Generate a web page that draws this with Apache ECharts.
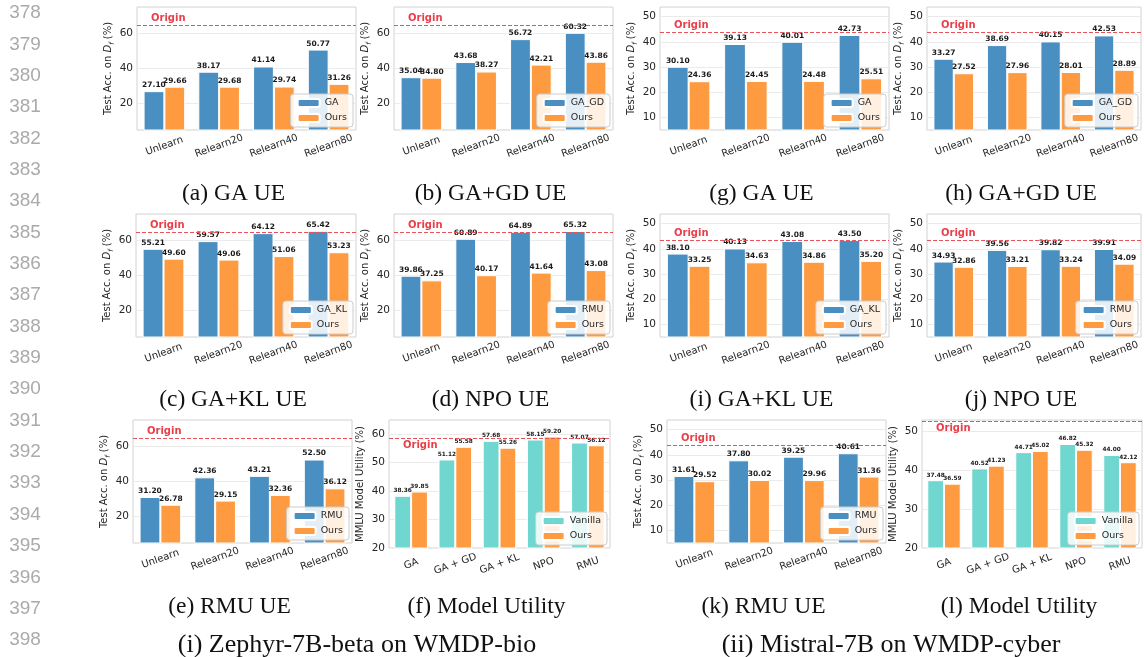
<!DOCTYPE html>
<html>
<head>
<meta charset="utf-8">
<script src="https://cdn.jsdelivr.net/npm/echarts@6/dist/echarts.min.js"></script>
<style>
  html, body { margin: 0; padding: 0; background: #fff; }
  #chart { width: 1144px; height: 657px; }
</style>
</head>
<body>
<div id="chart"></div>
<script>
// ---- data ----
const relearnCats = ['Unlearn', 'Relearn20', 'Relearn40', 'Relearn80']
const utilityCats = ['GA', 'GA + GD', 'GA + KL', 'NPO', 'RMU']

const ticksBio = [20, 40, 60]
const ticksCyber = [10, 20, 30, 40, 50]
const ticksUtilBio = [20, 30, 40, 50, 60]
const ticksUtilCyber = [20, 30, 40, 50]

// (i) Zephyr-7B-beta on WMDP-bio
const gaBio = [27.10, 38.17, 41.14, 50.77]
const gaBioOurs = [29.66, 29.68, 29.74, 31.26]
const gdBio = [35.04, 43.68, 56.72, 60.32]
const gdBioOurs = [34.80, 38.27, 42.21, 43.86]
const klBio = [55.21, 59.57, 64.12, 65.42]
const klBioOurs = [49.60, 49.06, 51.06, 53.23]
const npoBio = [39.86, 60.89, 64.89, 65.32]
const npoBioOurs = [37.25, 40.17, 41.64, 43.08]
const rmuBio = [31.20, 42.36, 43.21, 52.50]
const rmuBioOurs = [26.78, 29.15, 32.36, 36.12]
const utilBio = [38.36, 51.12, 57.68, 58.15, 57.07]
const utilBioOurs = [39.85, 55.58, 55.26, 59.20, 56.12]

// (ii) Mistral-7B on WMDP-cyber
const gaCyber = [30.10, 39.13, 40.01, 42.73]
const gaCyberOurs = [24.36, 24.45, 24.48, 25.51]
const gdCyber = [33.27, 38.69, 40.15, 42.53]
const gdCyberOurs = [27.52, 27.96, 28.01, 28.89]
const klCyber = [38.10, 40.13, 43.08, 43.50]
const klCyberOurs = [33.25, 34.63, 34.86, 35.20]
const npoCyber = [34.93, 39.56, 39.82, 39.91]
const npoCyberOurs = [32.86, 33.21, 33.24, 34.09]
const rmuCyber = [31.61, 37.80, 39.25, 40.61]
const rmuCyberOurs = [29.52, 30.02, 29.96, 31.36]
const utilCyber = [37.48, 40.52, 44.71, 46.82, 44.00]
const utilCyberOurs = [36.59, 41.23, 45.02, 45.32, 42.12]

// origin accuracy per panel, a..l
const originLevels = [64.7, 64.7, 64.4, 64.5, 64.4, 58.6, 43.8, 43.8, 43.5, 43.5, 43.8, 52.6]

const panels = [
  { cap: '(a) GA UE', cats: relearnCats, names: ['GA', 'Ours'], vals: [gaBio, gaBioOurs], ticks: ticksBio, range: [5, 75] },
  { cap: '(b) GA+GD UE', cats: relearnCats, names: ['GA_GD', 'Ours'], vals: [gdBio, gdBioOurs], ticks: ticksBio, range: [5, 75] },
  { cap: '(c) GA+KL UE', cats: relearnCats, names: ['GA_KL', 'Ours'], vals: [klBio, klBioOurs], ticks: ticksBio, range: [5, 75] },
  { cap: '(d) NPO UE', cats: relearnCats, names: ['RMU', 'Ours'], vals: [npoBio, npoBioOurs], ticks: ticksBio, range: [5, 75] },
  { cap: '(e) RMU UE', cats: relearnCats, names: ['RMU', 'Ours'], vals: [rmuBio, rmuBioOurs], ticks: ticksBio, range: [5, 75] },
  { cap: '(f) Model Utility', cats: utilityCats, names: ['Vanilla', 'Ours'], vals: [utilBio, utilBioOurs], ticks: ticksUtilBio, range: [20, 65] },
  { cap: '(g) GA UE', cats: relearnCats, names: ['GA', 'Ours'], vals: [gaCyber, gaCyberOurs], ticks: ticksCyber, range: [5, 53.8] },
  { cap: '(h) GA+GD UE', cats: relearnCats, names: ['GA_GD', 'Ours'], vals: [gdCyber, gdCyberOurs], ticks: ticksCyber, range: [5, 53.8] },
  { cap: '(i) GA+KL UE', cats: relearnCats, names: ['GA_KL', 'Ours'], vals: [klCyber, klCyberOurs], ticks: ticksCyber, range: [5, 53.8] },
  { cap: '(j) NPO UE', cats: relearnCats, names: ['RMU', 'Ours'], vals: [npoCyber, npoCyberOurs], ticks: ticksCyber, range: [5, 53.8] },
  { cap: '(k) RMU UE', cats: relearnCats, names: ['RMU', 'Ours'], vals: [rmuCyber, rmuCyberOurs], ticks: ticksCyber, range: [5, 53.8] },
  { cap: '(l) Model Utility', cats: utilityCats, names: ['Vanilla', 'Ours'], vals: [utilCyber, utilCyberOurs], ticks: ticksUtilCyber, range: [20, 53] },
]

// ---- layout: plot boxes [x0, y0, x1, y1], a..l ----
const boxes = [
  [137, 7, 356, 130], [394, 7, 613, 130],
  [136, 214, 356, 337], [394, 214, 613, 337],
  [133, 420, 352, 543], [389, 420, 610, 548],
  [660, 7, 889, 130], [927, 7, 1141, 130],
  [660, 214, 889, 337], [927, 214, 1141, 337],
  [667, 420, 886, 543], [922, 420, 1142, 548],
]
const captionY = [194, 194, 400, 400, 607, 607, 194, 194, 400, 400, 607, 607]

const FONT = 'DejaVu Sans'
const BLUE = '#4a8fc2'
const ORANGE = '#fe9a40'
const TEAL = '#6fd7cf'
const INK = '#262626'

const grid = [], xAxis = [], yAxis = [], series = [], legend = [], graphic = []

panels.forEach((p, i) => {
  const [x0, y0, x1, y1] = boxes[i]
  const util = p.cats.length === 5
  const step = util ? 10 : 5

  grid.push({
    left: x0, top: y0, width: x1 - x0, height: y1 - y0,
    show: true, borderColor: '#d2d2d2', borderWidth: 1, backgroundColor: '#fff',
  })

  xAxis.push({
    type: 'category', gridIndex: i, data: p.cats,
    axisLine: { show: false }, axisTick: { show: false },
    axisLabel: {
      interval: 0, rotate: 20, align: 'center', verticalAlign: 'middle',
      margin: 16, fontSize: 10, color: INK, fontFamily: FONT,
    },
  })

  yAxis.push({
    type: 'value', gridIndex: i, min: p.range[0], max: p.range[1], interval: step,
    splitLine: { show: false }, axisLine: { show: false }, axisTick: { show: false },
    axisLabel: {
      // only the tick values listed for the panel get a label
      formatter: v => (p.ticks.includes(Math.round(v)) && Math.abs(v - Math.round(v)) < 1e-6 ? String(Math.round(v)) : ''),
      fontSize: 10.5, margin: 4, color: INK, fontFamily: FONT,
    },
    name: util ? 'MMLU Model Utility (%)' : 'Test Acc. on {it|D}{sub|f} (%)',
    nameLocation: 'middle', nameRotate: 90, nameGap: util ? 15 : 18,
    nameTextStyle: {
      fontSize: 10, color: INK, fontFamily: FONT, lineHeight: 14,
      rich: {
        it: { fontSize: 10, fontStyle: 'italic', color: INK, fontFamily: FONT, lineHeight: 14 },
        sub: { fontSize: 7, fontStyle: 'italic', color: INK, fontFamily: FONT, lineHeight: 8, verticalAlign: 'bottom' },
      },
    },
  })

  const valueLabel = {
    show: true, position: 'top', distance: 2,
    fontSize: util ? 5.8 : 7.5, fontWeight: 'bold', color: '#1a1a1a', fontFamily: FONT,
    formatter: d => d.value.toFixed(2),
  }

  series.push({
    type: 'bar', name: p.names[0], xAxisIndex: i, yAxisIndex: i, data: p.vals[0],
    barWidth: '38%', barGap: '0%', z: 2,
    itemStyle: { color: util ? TEAL : BLUE, borderColor: '#fff', borderWidth: 1 },
    label: valueLabel,
    // light horizontal grid lines, kept under the bars
    markLine: {
      z: 1, silent: true, symbol: 'none', animation: false,
      label: { show: false },
      lineStyle: { color: '#ebebeb', type: 'solid', width: 1 },
      data: p.ticks.map(t => ({ yAxis: t })),
    },
  })

  series.push({
    type: 'bar', name: p.names[1], xAxisIndex: i, yAxisIndex: i, data: p.vals[1],
    barWidth: '38%', barGap: '0%', z: 2,
    itemStyle: { color: ORANGE, borderColor: '#fff', borderWidth: 1 },
    label: valueLabel,
    markLine: {
      z: 6, silent: true, symbol: 'none', animation: false,
      lineStyle: { color: '#e8525a', type: [4, 2], width: 1 },
      label: {
        show: true, formatter: 'Origin',
        position: util ? 'insideStartBottom' : 'insideStartTop',
        distance: [14, 2],
        color: '#e8404a', fontWeight: 'bold', fontSize: 10, fontFamily: FONT,
      },
      data: [{ yAxis: originLevels[i] }],
    },
  })

  legend.push({
    data: p.names, orient: 'vertical', selectedMode: false,
    right: 1144 - x1 + 3, bottom: 657 - y1 + 3,
    itemWidth: 22, itemHeight: 8, itemGap: 5, padding: [4, 6, 4, 6],
    backgroundColor: 'rgba(255,255,255,0.85)', borderColor: '#cccccc', borderWidth: 1, borderRadius: 3,
    textStyle: { fontSize: 9.5, color: INK, fontFamily: FONT },
  })

  graphic.push({
    type: 'text', x: (x0 + x1) / 2 - 13, y: captionY[i], silent: true,
    style: {
      text: p.cap, fill: '#111', font: '23.5px "Liberation Serif"',
      textAlign: 'center', textVerticalAlign: 'middle', align: 'center', verticalAlign: 'middle',
    },
  })
})

// line numbers on the left margin
for (let n = 378; n <= 398; n++) {
  graphic.push({
    type: 'text', x: 25, y: 13 + (n - 378) * 31.35, silent: true,
    style: {
      text: String(n), fill: '#aaaaaa', font: '19px "Liberation Sans"',
      textAlign: 'center', textVerticalAlign: 'middle', align: 'center', verticalAlign: 'middle',
    },
  })
}

// group captions
const groupCaps = [['(i) Zephyr-7B-beta on WMDP-bio', 357], ['(ii) Mistral-7B on WMDP-cyber', 891]]
groupCaps.forEach(([t, cx]) => {
  graphic.push({
    type: 'text', x: cx, y: 645, silent: true,
    style: {
      text: t, fill: '#111', font: '26px "Liberation Serif"',
      textAlign: 'center', textVerticalAlign: 'middle', align: 'center', verticalAlign: 'middle',
    },
  })
})

const chart = echarts.init(document.getElementById('chart'), null, { renderer: 'canvas' })
chart.setOption({
  animation: false,
  backgroundColor: '#fff',
  textStyle: { fontFamily: FONT },
  grid, xAxis, yAxis, series, legend, graphic,
})
</script>
</body>
</html>
